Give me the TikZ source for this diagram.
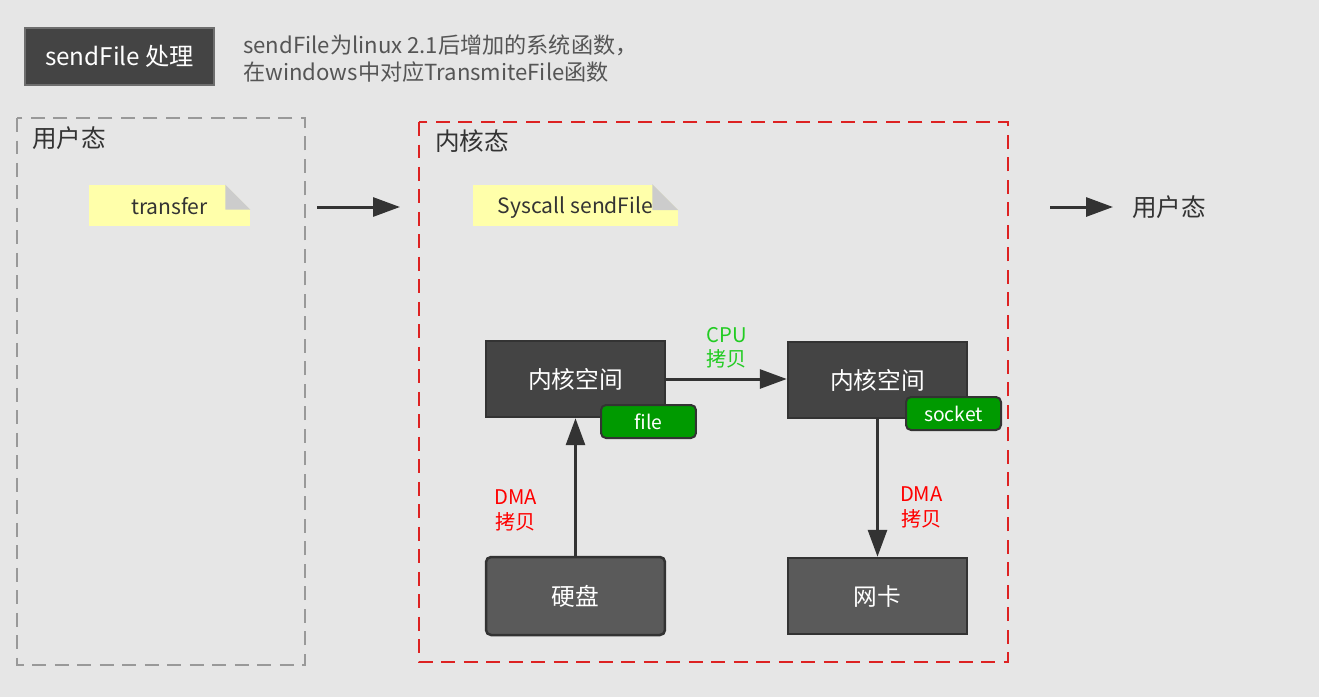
\documentclass[tikz,border=0pt]{standalone}
\usepackage{fontspec}
\setmainfont{Noto Sans CJK SC}
\usetikzlibrary{arrows.meta,positioning}
\definecolor{canvas}{HTML}{E6E6E6}
\definecolor{boxgrey}{HTML}{444444}
\definecolor{devgrey}{HTML}{5A5A5A}
\definecolor{boxedge}{HTML}{333333}
\definecolor{titleedge}{HTML}{6E6E6E}
\definecolor{taggreen}{HTML}{009A00}
\definecolor{memoyellow}{HTML}{FFFFAA}
\definecolor{foldgrey}{HTML}{CCCCCC}
\definecolor{zonered}{HTML}{DD2222}
\definecolor{zonegrey}{HTML}{999999}
\definecolor{cpugreen}{HTML}{22CC22}
\definecolor{dmared}{HTML}{FF0000}
\definecolor{inkgrey}{HTML}{555555}
\tikzset{
  darkbox/.style={draw=boxedge,fill=boxgrey,line width=0.5mm,
                  minimum width=3.58cm,minimum height=1.52cm,text=white,
                  font=\fontsize{13.5}{16}\selectfont},
  devbox/.style={darkbox,fill=devgrey},
  tag/.style={draw=boxedge,fill=taggreen,rounded corners=1mm,line width=0.4mm,
              minimum width=1.9cm,minimum height=0.66cm,text=white,
              font=\fontsize{11}{13}\selectfont},
  flow/.style={-{Triangle[length=5.4mm,width=3.8mm]},draw=boxedge,line width=0.6mm},
  zone/.style={line width=0.4mm,dash pattern=on 2.8mm off 1.7mm}
}

\begin{document}
\begin{tikzpicture}[
  x=0.02cm,y=-0.02cm,
  memo/.style={fill=memoyellow,minimum height=0.82cm,inner sep=0pt,
               font=\fontsize{12}{14}\selectfont,text=boxedge},
  heading/.style={font=\fontsize{14}{17}\selectfont,text=boxedge,inner sep=0pt},
  copylabel/.style={font=\fontsize{11.5}{14}\selectfont,align=center,inner sep=0pt}
]
  \fill[canvas] (0,0) rectangle (1319,697);
  \useasboundingbox (0,0) rectangle (1319,697);

  \node[draw=titleedge,fill=boxgrey,line width=0.4mm,minimum width=3.78cm,
        minimum height=1.14cm,text=white,font=\fontsize{13.8}{16}\selectfont]
    (title) at (119.5,56.5) {sendFile 处理};
  \node[anchor=west,align=left,text=inkgrey,inner sep=0pt,
        font=\fontsize{12.6}{15.3}\selectfont] (remark) at (243,58.5)
    {sendFile为linux 2.1后增加的系统函数，\\在windows中对应TransmiteFile函数};

  \draw[zone,draw=zonegrey] (17,118) rectangle (305,665);
  \draw[zone,draw=zonered] (419,122) rectangle (1008,662);
  \node[heading,anchor=west] (user) at (32,138) {用户态};
  \node[heading,anchor=west] (kernel) at (435,141) {内核态};

  \node[memo,minimum width=3.22cm,text depth=0pt] (tnote) at (169.5,205.5) {transfer};
  \node[memo,minimum width=4.1cm,text depth=0pt] (snote) at (575.5,205) {Syscall sendFile};
  \fill[canvas] (tnote.north east) -- ++(-25,0) -- ++(25,25) -- cycle;
  \fill[foldgrey] (tnote.north east) ++(-25,0) -- ++(0,25) -- ++(25,0) -- cycle;
  \fill[canvas] (snote.north east) -- ++(-26,0) -- ++(26,26) -- cycle;
  \fill[foldgrey] (snote.north east) ++(-26,0) -- ++(0,26) -- ++(26,0) -- cycle;

  \coordinate (hopL) at (317,207);
  \coordinate (hopR) at (400,207);
  \coordinate (exitL) at (1050,207);
  \coordinate (exitR) at (1113,207);
  \node[heading,right=0.38cm of exitR] (backuser) {用户态};
  \draw[flow] (hopL)--(hopR);
  \draw[flow] (exitL)--(exitR);

  \node[darkbox] (kfile) at (575.5,379) {内核空间};
  \node[darkbox] (ksock) at (877.5,380) {内核空间};
  \node[devbox,rounded corners=1mm,minimum height=1.56cm] (disk) at (575.5,596) {硬盘};
  \node[devbox] (nic) at (877.5,596) {网卡};
  \node[tag] (filetag) at (648.5,421.5) {file};
  \node[tag] (socktag) at (953.5,413.5) {socket};

  \draw[flow] (kfile.east)--(kfile.east -| ksock.west)
    node[copylabel,text=cpugreen,midway,above=0.18cm] {CPU\\拷贝};
  \draw[flow] (disk.north)--(kfile.south)
    node[copylabel,text=dmared,pos=0.33,left=0.74cm] {DMA\\拷贝};
  \draw[flow] (ksock.south)--(nic.north)
    node[copylabel,text=dmared,pos=0.64,right=0.42cm] {DMA\\拷贝};
\end{tikzpicture}
\end{document}
